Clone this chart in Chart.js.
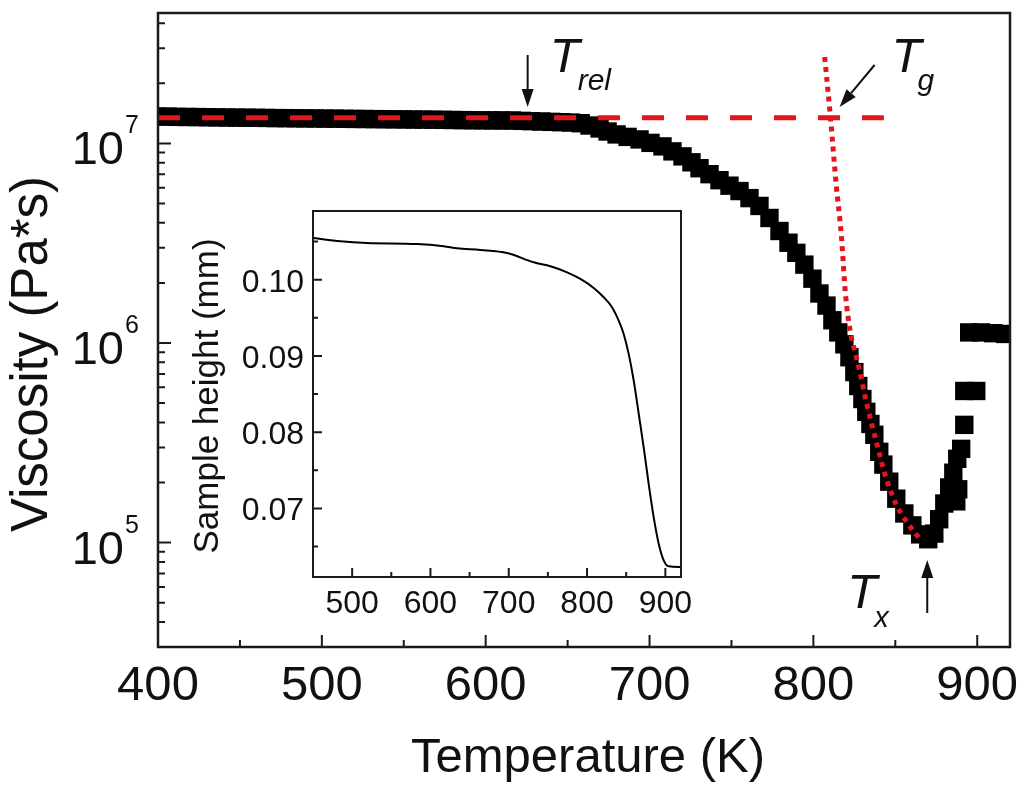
<!DOCTYPE html>
<html>
<head>
<meta charset="utf-8">
<script src="https://cdn.jsdelivr.net/npm/chart.js@4.4.0/dist/chart.umd.min.js"></script>
<style>
body { margin: 0; background: #fff; }
#wrap { position: relative; width: 1024px; height: 791px; }
#mainChart { position: absolute; left: 0; top: 0; }
#insetChart { position: absolute; left: 150px; top: 190px; }
</style>
</head>
<body>
<div id="wrap">
<canvas id="mainChart" width="1024" height="791"></canvas>
<canvas id="insetChart" width="560" height="440"></canvas>
</div>
<script>
// main curve: temperature (K) and viscosity (Pa*s)
const viscTemp = [400, 406, 412, 418, 424, 430, 436, 442, 448, 454, 460, 466, 472, 478, 484, 490,
    496, 502, 508, 514, 520, 526, 532, 538, 544, 550, 556, 562, 568, 574, 580, 586, 592, 598, 604,
    610, 616, 622, 628, 634, 640, 646, 652, 658,
    663.4, 669.5, 674.4, 679.9, 686.6, 693.9, 700.6, 707.9, 714, 720.1, 725.6, 730.5, 736.6, 742.7,
    748.8, 754.9, 761, 767.1, 773.2, 779.3, 784.8, 789.6, 794.5, 799.4, 803.7, 808, 811.6, 815.2,
    818.9, 822, 825, 827.4, 829.9, 832.3, 834.8, 837.2, 840.2, 842.7, 846.3, 850.6, 855.5, 860.4,
    865.2, 870.1, 873.8, 876.8, 879.9, 882.9, 885.4, 887.2, 888.4, 887.8, 890.2, 892.1, 892.1,
    899.4, 895.1, 902.4, 909.8, 917.1];
const viscValue = [1.363e7, 1.362e7, 1.358e7, 1.356e7, 1.355e7, 1.352e7, 1.350e7, 1.348e7, 1.346e7,
    1.345e7, 1.343e7, 1.341e7, 1.339e7, 1.338e7, 1.336e7, 1.334e7, 1.333e7, 1.331e7, 1.330e7,
    1.328e7, 1.326e7, 1.325e7, 1.323e7, 1.322e7, 1.320e7, 1.319e7, 1.317e7, 1.316e7, 1.314e7,
    1.312e7, 1.310e7, 1.308e7, 1.306e7, 1.305e7, 1.304e7, 1.303e7, 1.302e7, 1.297e7, 1.292e7,
    1.287e7, 1.282e7, 1.277e7, 1.272e7, 1.262e7,
    1.229e7, 1.188e7, 1.147e7, 1.109e7, 1.078e7, 1.047e7, 1.006e7, 9.66e6, 9.12e6, 8.61e6, 8.04e6,
    7.51e6, 7.01e6, 6.54e6, 6.14e6, 5.77e6, 5.32e6, 4.86e6, 4.23e6, 3.64e6, 3.18e6, 2.83e6, 2.47e6,
    2.10e6, 1.77e6, 1.54e6, 1.30e6, 1.13e6, 9.85e5, 8.49e5, 7.15e5, 6.09e5, 5.24e5, 4.52e5, 3.93e5,
    3.47e5, 2.85e5, 2.46e5, 2.02e5, 1.66e5, 1.40e5, 1.22e5, 1.10e5, 1.04e5, 1.11e5, 1.31e5, 1.57e5,
    1.89e5, 2.24e5, 1.61e5, 1.85e5, 2.63e5, 2.95e5, 3.89e5, 5.75e5, 5.75e5, 1.13e6, 1.13e6, 1.12e6,
    1.11e6];

// red dotted fit through the supercooled liquid range
const fitTemp = [806.9, 810.5, 814.0, 817.1, 819.5, 822.6, 825.0, 828.0, 832.3, 838.4, 844.5, 850.6, 856.7, 864.6];
const fitValue = [2.71e7, 1.33e7, 6.11e6, 3.44e6, 1.79e6, 1.13e6, 9.30e5, 7.40e5, 5.07e5, 3.20e5, 2.09e5, 1.55e5, 1.28e5, 1.05e5];

// red dashed plateau
const plateauTemp = [400, 843];
const plateauValue = [1.343e7, 1.343e7];

// characteristic temperatures (K)
const tRel = 625.6;
const tG = 810.5;
const tX = 869.5;

// main axes
const xTicks = [400, 500, 600, 700, 800, 900];
const xMinorTicks = [450, 550, 650, 750, 850];
const yTicks = [1e5, 1e6, 1e7];
const yMinorTicks = [4e4, 5e4, 6e4, 7e4, 8e4, 9e4, 2e5, 3e5, 4e5, 5e5, 6e5, 7e5, 8e5, 9e5,
    2e6, 3e6, 4e6, 5e6, 6e6, 7e6, 8e6, 9e6, 2e7, 3e7, 4e7];

// inset: sample height (mm) vs temperature (K)
const insetTemp = [451.1, 485.1, 519.1, 583.0, 617.0, 634.0, 663.8, 697.9, 731.9, 753.2, 774.5, 791.5,
    808.5, 821.3, 831.9, 840.4, 846.8, 853.2, 859.6, 866.0, 872.3, 878.7, 885.1, 891.5, 897.9, 904.3, 919.1];
const insetHeight = [0.10546, 0.10502, 0.10480, 0.10467, 0.10437, 0.10410, 0.10389, 0.10349, 0.10227,
    0.10175, 0.10096, 0.10009, 0.09891, 0.09769, 0.09638, 0.09463, 0.09288, 0.09026, 0.08677, 0.08240,
    0.07803, 0.07323, 0.06886, 0.06537, 0.06319, 0.06240, 0.06231];
const insetXTicks = [500, 600, 700, 800, 900];
const insetXMinor = [550, 650, 750, 850];
const insetYTicks = [0.07, 0.08, 0.09, 0.10];
const insetYLabels = ['0.07', '0.08', '0.09', '0.10'];
const insetYMinor = [0.065, 0.075, 0.085, 0.095, 0.105];

const FONT = '"Liberation Sans", Arial, Helvetica, sans-serif';
const INK = '#111';
const RED = '#e3141c';

function toPoints(xs, ys) {
    return xs.map((v, i) => ({ x: v, y: ys[i] }));
}

function drawArrow(ctx, x1, y1, x2, y2, head, half) {
    const ang = Math.atan2(y2 - y1, x2 - x1);
    const bx = x2 - head * Math.cos(ang);
    const by = y2 - head * Math.sin(ang);
    ctx.beginPath();
    ctx.moveTo(x1, y1);
    ctx.lineTo(bx, by);
    ctx.stroke();
    ctx.beginPath();
    ctx.moveTo(x2, y2);
    ctx.lineTo(bx + half * Math.sin(ang), by - half * Math.cos(ang));
    ctx.lineTo(bx - half * Math.sin(ang), by + half * Math.cos(ang));
    ctx.closePath();
    ctx.fill();
}

// frame, inward ticks, labels and annotations of the main plot
const mainDecor = {
    id: 'mainDecor',
    afterDraw(chart) {
        const { ctx, chartArea: a, scales: { x, y } } = chart;
        ctx.save();
        ctx.strokeStyle = '#1a1a1a';
        ctx.lineWidth = 2.5;
        ctx.strokeRect(a.left, a.top, a.right - a.left, a.bottom - a.top);

        ctx.lineWidth = 2;
        ctx.beginPath();
        xTicks.forEach(v => {
            const px = x.getPixelForValue(v);
            ctx.moveTo(px, a.bottom);
            ctx.lineTo(px, a.bottom - 12);
        });
        xMinorTicks.forEach(v => {
            const px = x.getPixelForValue(v);
            ctx.moveTo(px, a.bottom);
            ctx.lineTo(px, a.bottom - 7);
        });
        yTicks.forEach(v => {
            const py = y.getPixelForValue(v);
            ctx.moveTo(a.left, py);
            ctx.lineTo(a.left + 13, py);
        });
        yMinorTicks.forEach(v => {
            const py = y.getPixelForValue(v);
            ctx.moveTo(a.left, py);
            ctx.lineTo(a.left + 7, py);
        });
        ctx.stroke();

        ctx.fillStyle = INK;
        ctx.textBaseline = 'alphabetic';
        ctx.font = '49px ' + FONT;
        ctx.textAlign = 'center';
        xTicks.forEach(v => ctx.fillText(String(v), x.getPixelForValue(v), 700));

        yTicks.forEach(v => {
            const py = y.getPixelForValue(v);
            ctx.font = '47px ' + FONT;
            ctx.textAlign = 'right';
            ctx.fillText('10', 124, py + 21);
            ctx.font = '25px ' + FONT;
            ctx.textAlign = 'left';
            ctx.fillText(String(Math.round(Math.log10(v))), 125, py - 10);
        });

        ctx.font = '49px ' + FONT;
        ctx.textAlign = 'center';
        ctx.fillText('Temperature (K)', 588, 772);

        ctx.save();
        ctx.translate(47, 354);
        ctx.rotate(-Math.PI / 2);
        ctx.font = '51px ' + FONT;
        ctx.fillText('Viscosity (Pa*s)', 0, 0);
        ctx.restore();

        // annotations
        ctx.strokeStyle = INK;
        ctx.lineWidth = 2;
        const xr = x.getPixelForValue(tRel);
        const xg = x.getPixelForValue(tG);
        const xx = x.getPixelForValue(tX);
        drawArrow(ctx, xr, 55, xr, 107, 18, 6);
        drawArrow(ctx, xg + 44, 65, xg + 9, 107, 18, 6);
        drawArrow(ctx, xx, 613, xx, 560, 18, 6);

        ctx.textAlign = 'left';
        ctx.font = 'italic 49px ' + FONT;
        ctx.fillText('T', xr + 22, 72);
        ctx.fillText('T', xg + 61, 72);
        ctx.fillText('T', xx - 80, 608);
        ctx.font = 'italic 30px ' + FONT;
        ctx.fillText('rel', xr + 50, 90);
        ctx.fillText('g', xg + 87, 90);
        ctx.font = 'italic 29px ' + FONT;
        ctx.fillText('x', xx - 53, 627);
        ctx.restore();
    }
};

// frame, inward ticks and labels of the inset
const insetDecor = {
    id: 'insetDecor',
    afterDraw(chart) {
        const { ctx, chartArea: a, scales: { x, y } } = chart;
        ctx.save();
        ctx.strokeStyle = '#1a1a1a';
        ctx.lineWidth = 2;
        ctx.strokeRect(a.left, a.top, a.right - a.left, a.bottom - a.top);
        ctx.beginPath();
        insetXTicks.forEach(v => {
            const px = x.getPixelForValue(v);
            ctx.moveTo(px, a.bottom);
            ctx.lineTo(px, a.bottom - 9);
        });
        insetXMinor.forEach(v => {
            const px = x.getPixelForValue(v);
            ctx.moveTo(px, a.bottom);
            ctx.lineTo(px, a.bottom - 5);
        });
        insetYTicks.forEach(v => {
            const py = y.getPixelForValue(v);
            ctx.moveTo(a.left, py);
            ctx.lineTo(a.left + 9, py);
        });
        insetYMinor.forEach(v => {
            const py = y.getPixelForValue(v);
            ctx.moveTo(a.left, py);
            ctx.lineTo(a.left + 5, py);
        });
        ctx.stroke();

        ctx.fillStyle = INK;
        ctx.font = '32px ' + FONT;
        ctx.textBaseline = 'alphabetic';
        ctx.textAlign = 'center';
        insetXTicks.forEach(v => ctx.fillText(String(v), x.getPixelForValue(v), 423));
        ctx.textAlign = 'right';
        insetYTicks.forEach((v, i) => ctx.fillText(insetYLabels[i], 154, y.getPixelForValue(v) + 12));

        ctx.save();
        ctx.translate(68, 206);
        ctx.rotate(-Math.PI / 2);
        ctx.textAlign = 'center';
        ctx.font = '35px ' + FONT;
        ctx.fillText('Sample height (mm)', 0, 0);
        ctx.restore();
        ctx.restore();
    }
};

new Chart(document.getElementById('mainChart'), {
    type: 'scatter',
    data: {
        datasets: [
            {
                label: 'plateau',
                type: 'line',
                data: toPoints(plateauTemp, plateauValue),
                borderColor: RED,
                borderWidth: 5,
                borderDash: [22, 22],
                pointRadius: 0,
                order: 0
            },
            {
                label: 'fit',
                type: 'line',
                data: toPoints(fitTemp, fitValue),
                borderColor: RED,
                borderWidth: 5,
                borderDash: [5, 5],
                pointRadius: 0,
                cubicInterpolationMode: 'monotone',
                order: 1
            },
            {
                label: 'viscosity',
                data: toPoints(viscTemp, viscValue),
                pointStyle: 'rect',
                pointRadius: 13,
                pointHoverRadius: 13,
                backgroundColor: '#000',
                borderWidth: 0,
                order: 2
            }
        ]
    },
    options: {
        responsive: false,
        animation: false,
        events: [],
        layout: { padding: { left: 0, top: 9, right: 14, bottom: 0 } },
        plugins: { legend: { display: false }, tooltip: { enabled: false } },
        scales: {
            x: {
                type: 'linear', min: 400, max: 920, bounds: 'data',
                grid: { display: false }, border: { display: false }, ticks: { display: false },
                afterFit: s => { s.height = 144; }
            },
            y: {
                type: 'logarithmic', min: 3e4, max: 4.5e7, bounds: 'data',
                grid: { display: false }, border: { display: false }, ticks: { display: false },
                afterFit: s => { s.width = 158; }
            }
        }
    },
    plugins: [mainDecor]
});

new Chart(document.getElementById('insetChart'), {
    type: 'line',
    data: {
        datasets: [{
            label: 'height',
            data: toPoints(insetTemp, insetHeight),
            borderColor: '#000',
            borderWidth: 2,
            pointRadius: 0,
            cubicInterpolationMode: 'monotone'
        }]
    },
    options: {
        responsive: false,
        animation: false,
        events: [],
        layout: { padding: { left: 0, top: 21, right: 29, bottom: 0 } },
        plugins: { legend: { display: false }, tooltip: { enabled: false } },
        scales: {
            x: {
                type: 'linear', min: 450, max: 920, bounds: 'data',
                grid: { display: false }, border: { display: false }, ticks: { display: false },
                afterFit: s => { s.height = 53; }
            },
            y: {
                type: 'linear', min: 0.061, max: 0.109, bounds: 'data',
                grid: { display: false }, border: { display: false }, ticks: { display: false },
                afterFit: s => { s.width = 163; }
            }
        }
    },
    plugins: [insetDecor]
});
</script>
</body>
</html>
